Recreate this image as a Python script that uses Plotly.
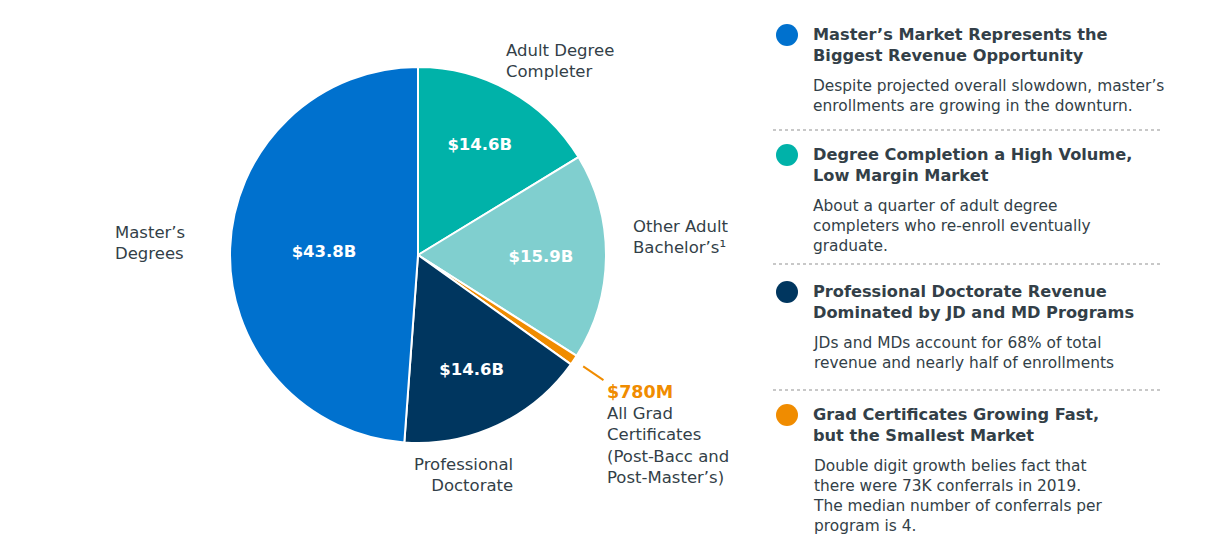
import math
import plotly.graph_objects as go

W, H = 1209, 544

categories = ["Adult Degree<br>Completer", "Other Adult<br>Bachelor’s¹", "All Grad Certificates",
              "Professional<br>Doctorate", "Master’s<br>Degrees"]
values = [14.6, 15.9, 0.78, 14.6, 43.8]
value_labels = ["$14.6B", "$15.9B", "$780M", "$14.6B", "$43.8B"]
colors = ["#00B2A9", "#80CFCF", "#F08C00", "#00365F", "#0071CE"]

headings = [
    "Master’s Market Represents the<br>Biggest Revenue Opportunity",
    "Degree Completion a High Volume,<br>Low Margin Market",
    "Professional Doctorate Revenue<br>Dominated by JD and MD Programs",
    "Grad Certificates Growing Fast,<br>but the Smallest Market",
]
bodies = [
    "Despite projected overall slowdown, master’s<br>enrollments are growing in the downturn.",
    "About a quarter of adult degree<br>completers who re-enroll eventually<br>graduate.",
    "JDs and MDs account for 68% of total<br>revenue and nearly half of enrollments",
    "Double digit growth belies fact that<br>there were 73K conferrals in 2019.<br>The median number of conferrals per<br>program is 4.",
]
note_colors = ["#0071CE", "#00B2A9", "#00365F", "#F08C00"]

TXT = "#333F48"
FONT = "DejaVu Sans"
OFF = 8  # page margin of the browser


def px(x):
    return (x - OFF) / W


def py(y):
    return 1 - (y - OFF) / H


def lab(size=16.5, color=TXT, weight="normal"):
    return dict(family=FONT, size=size, color=color, weight=weight)


cx, cy, R = 418, 255, 188

fig = go.Figure(go.Pie(
    labels=categories,
    values=values,
    text=value_labels,
    textinfo="text",
    textposition=["inside", "inside", "none", "inside", "inside"],
    insidetextorientation="horizontal",
    insidetextfont=dict(family=FONT, size=16.5, color="white", weight="bold"),
    marker=dict(colors=colors, line=dict(color="white", width=2)),
    sort=False,
    direction="clockwise",
    rotation=0,
    hoverinfo="label+text",
    domain=dict(x=[px(cx - R), px(cx + R)], y=[py(cy + R), py(cy - R)]),
))

annotations = []
shapes = []

# outside slice labels
annotations.append(dict(x=px(504), y=py(61), text=categories[0], xanchor="left", align="left", font=lab()))
annotations.append(dict(x=px(631), y=py(237), text=categories[1], xanchor="left", align="left", font=lab()))
annotations.append(dict(x=px(515), y=py(475), text=categories[3], xanchor="right", align="right", font=lab()))
annotations.append(dict(x=px(113), y=py(243), text=categories[4], xanchor="left", align="left", font=lab()))
annotations.append(dict(x=px(605), y=py(392), text=value_labels[2], xanchor="left",
                        align="left", font=lab(17.5, colors[2], "bold")))
annotations.append(dict(x=px(605), y=py(445),
                        text="All Grad<br>Certificates<br>(Post-Bacc and<br>Post-Master’s)",
                        xanchor="left", align="left", font=lab()))

# leader line for the small slice
total = sum(values)
cum = sum(values[:2])
theta = 2 * math.pi * (cum + values[2] / 2) / total
x0, y0 = cx + 1.06 * R * math.sin(theta), cy - 1.06 * R * math.cos(theta)
x1, y1 = cx + 1.19 * R * math.sin(theta), cy - 1.19 * R * math.cos(theta)
shapes.append(dict(type="line", xref="paper", yref="paper", x0=px(x0), y0=py(y0), x1=px(x1), y1=py(y1),
                   line=dict(color=colors[2], width=2)))

# right-side notes
head_y = [45, 165, 302, 425]
body_y = [96, 226, 353, 496]
sep_y = [130, 264, 390]
for i in range(4):
    top = head_y[i] - 21
    shapes.append(dict(type="circle", xref="paper", yref="paper",
                       x0=px(776), x1=px(798), y0=py(top + 22), y1=py(top),
                       fillcolor=note_colors[i], line=dict(width=0)))
    annotations.append(dict(x=px(811), y=py(head_y[i]), text=headings[i],
                            xanchor="left", align="left", font=lab(16.2, TXT, "bold")))
    annotations.append(dict(x=px(811), y=py(body_y[i]), text=bodies[i], xanchor="left", align="left",
                            font=lab(15.4)))
for y in sep_y:
    shapes.append(dict(type="line", xref="paper", yref="paper", x0=px(773), x1=px(1163), y0=py(y), y1=py(y),
                       line=dict(color="#C8C8C8", width=2, dash="dot")))

for a in annotations:
    a.setdefault("xref", "paper")
    a.setdefault("yref", "paper")
    a.setdefault("yanchor", "middle")
    a.setdefault("showarrow", False)

fig.update_layout(
    width=W, height=H,
    margin=dict(l=0, r=0, t=0, b=0),
    paper_bgcolor="white",
    showlegend=False,
    font=dict(family=FONT, size=15, color=TXT),
    annotations=annotations,
    shapes=shapes,
)

fig.write_html("out.html")
